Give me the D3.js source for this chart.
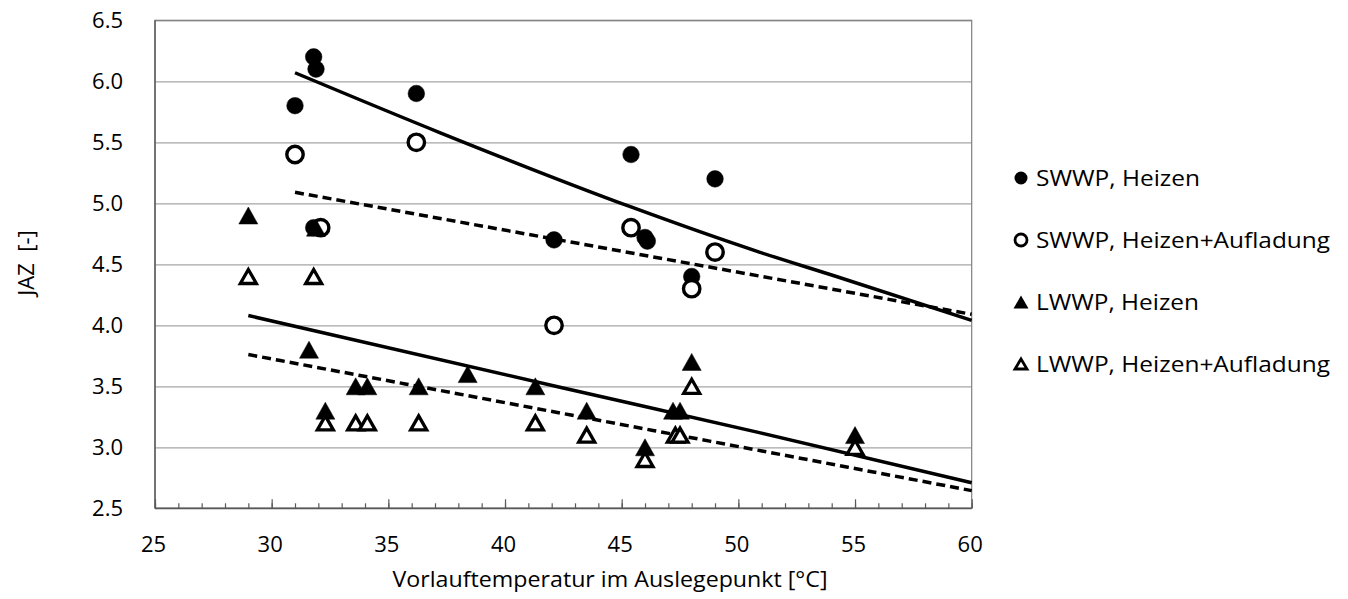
<html>
<head>
    <title>JAZ vs Vorlauftemperatur</title>
    <meta charset="UTF-8" />
    <script src="https://d3js.org/d3.v7.min.js"></script>

    <style>
        body { margin: 0; background: white; }
        text { font-family: "Open Sans", "Noto Sans", sans-serif; fill: #000; }
        .gridlines line { stroke: #a6a6a6; stroke-width: 1.2; }
        .gridlines .domain { stroke: none; }
        .ticklabels .domain { stroke: none; }
        .ticklabels text { font-size: 22px; }
        .minor line, .major line { stroke: #595959; stroke-width: 1.2; }
        .minor .domain, .major .domain { stroke: none; }
    </style>
</head>

<body>
    <svg height="599" width="1348" id="svg"></svg>

    <script>
        // data: [Vorlauftemperatur, JAZ]
        const swwpHeizen = [[31.8, 6.2], [31.9, 6.1], [31.0, 5.8], [36.2, 5.9], [45.4, 5.4], [49.0, 5.2],
                            [42.1, 4.7], [46.0, 4.72], [46.1, 4.69], [48.0, 4.4], [31.8, 4.8]];
        const swwpAufladung = [[31.0, 5.4], [36.2, 5.5], [45.4, 4.8], [49.0, 4.6], [48.0, 4.3],
                               [42.1, 4.0], [32.1, 4.8]];
        const lwwpHeizen = [[29.0, 4.9], [31.9, 4.8], [31.6, 3.8], [32.3, 3.3], [33.6, 3.5], [34.1, 3.5],
                            [36.3, 3.5], [38.4, 3.6], [41.3, 3.5], [43.5, 3.3], [46.0, 3.0], [47.2, 3.3],
                            [47.5, 3.3], [48.0, 3.7], [55.0, 3.1]];
        const lwwpAufladung = [[29.0, 4.4], [31.8, 4.4], [32.3, 3.2], [33.6, 3.2], [34.1, 3.2], [36.3, 3.2],
                               [41.3, 3.2], [43.5, 3.1], [46.0, 2.9], [47.3, 3.1], [47.5, 3.1], [48.0, 3.5],
                               [55.0, 3.0]];

        // trend lines as seen in the picture
        const trendSwwpHeizen = [[31.0, 6.07], [37.2, 5.58], [45.4, 4.97], [50.9, 4.60], [54.2, 4.40], [60, 4.04]];
        const trendSwwpAufladung = [[31.0, 5.09], [60, 4.09]];
        const trendLwwpHeizen = [[29.0, 4.08], [42.4, 3.49], [50.9, 3.12], [60, 2.71]];
        const trendLwwpAufladung = [[29.0, 3.76], [42.4, 3.28], [60, 2.645]];

        const xTicks = [25, 30, 35, 40, 45, 50, 55, 60];
        const xMinorTicks = d3.range(25, 61, 1);
        const yTicks = [2.5, 3.0, 3.5, 4.0, 4.5, 5.0, 5.5, 6.0, 6.5];
        const legendLabels = ["SWWP, Heizen", "SWWP, Heizen+Aufladung", "LWWP, Heizen", "LWWP, Heizen+Aufladung"];

        // setting up svg
        const svg = d3.select('svg#svg');
        const margin = {top: 20.3, left: 155, right: 1348 - 971.7, bottom: 599 - 508.3};
        const chartWidth = 1348 - margin.left - margin.right;
        const chartHeight = 599 - margin.top - margin.bottom;

        const xScale = d3.scaleLinear().domain([25, 60]).range([0, chartWidth]);
        const yScale = d3.scaleLinear().domain([2.5, 6.5]).range([chartHeight, 0]);

        const chart = svg.append("g")
            .attr("transform", "translate(" + margin.left + "," + margin.top + ")");

        // gridlines
        chart.append("g")
            .attr("class", "gridlines")
            .call(d3.axisLeft(yScale).tickValues(yTicks).tickSize(-chartWidth).tickFormat(""));

        // frame
        chart.append("rect")
            .attr("width", chartWidth).attr("height", chartHeight)
            .attr("fill", "none").attr("stroke", "#7f7f7f").attr("stroke-width", 1.2);
        chart.append("line").attr("x1", 0).attr("x2", 0).attr("y1", 0).attr("y2", chartHeight)
            .attr("stroke", "#595959").attr("stroke-width", 1.4);
        chart.append("line").attr("x1", 0).attr("x2", chartWidth).attr("y1", chartHeight).attr("y2", chartHeight)
            .attr("stroke", "#595959").attr("stroke-width", 1.4);

        // tick marks on the x axis point into the plot
        chart.append("g").attr("class", "minor")
            .attr("transform", "translate(0," + chartHeight + ")")
            .call(d3.axisBottom(xScale).tickValues(xMinorTicks).tickSize(-5).tickFormat(""));
        chart.append("g").attr("class", "major")
            .attr("transform", "translate(0," + chartHeight + ")")
            .call(d3.axisBottom(xScale).tickValues(xTicks).tickSize(-9).tickFormat(""));

        // tick labels
        chart.append("g").attr("class", "ticklabels")
            .attr("transform", "translate(-2," + chartHeight + ")")
            .call(d3.axisBottom(xScale).tickValues(xTicks).tickSize(0).tickPadding(28).tickFormat(d3.format("d")));
        chart.append("g").attr("class", "ticklabels")
            .call(d3.axisLeft(yScale).tickValues(yTicks).tickSize(0).tickPadding(32).tickFormat(d3.format(".1f")));
        chart.selectAll(".ticklabels .tick line").remove();

        // trend lines
        const line = d3.line().x(d => xScale(d[0])).y(d => yScale(d[1])).curve(d3.curveMonotoneX);
        const trends = [
            {data: trendSwwpHeizen, dash: null},
            {data: trendSwwpAufladung, dash: "9,5"},
            {data: trendLwwpHeizen, dash: null},
            {data: trendLwwpAufladung, dash: "9,5"}
        ];
        chart.selectAll("path.trend").data(trends)
            .join("path")
            .attr("class", "trend")
            .attr("d", d => line(d.data))
            .attr("fill", "none")
            .attr("stroke", "#000")
            .attr("stroke-width", 3.5)
            .attr("stroke-dasharray", d => d.dash);

        // marker shapes (triangles centred on their bounding box)
        const triangle = (w, h) => "M0," + (-h / 2) + "L" + (w / 2) + "," + (h / 2) + "L" + (-w / 2) + "," + (h / 2) + "Z";

        const drawCircles = function(data, filled, r) {
            chart.append("g").selectAll("circle").data(data)
                .join("circle")
                .attr("cx", d => xScale(d[0]))
                .attr("cy", d => yScale(d[1]))
                .attr("r", r)
                .attr("fill", filled ? "#000" : "#fff")
                .attr("stroke", "#000")
                .attr("stroke-width", filled ? 0.5 : 3.4);
        };
        const drawTriangles = function(data, filled) {
            chart.append("g").selectAll("path").data(data)
                .join("path")
                .attr("d", filled ? triangle(19, 17) : triangle(16, 14))
                .attr("transform", d => "translate(" + xScale(d[0]) + "," + yScale(d[1]) + ")")
                .attr("fill", filled ? "#000" : "#fff")
                .attr("stroke", "#000")
                .attr("stroke-width", filled ? 0.5 : 3.3)
                .attr("stroke-linejoin", "miter");
        };

        drawCircles(swwpHeizen, true, 8.3);
        drawCircles(swwpAufladung, false, 8.2);
        drawTriangles(lwwpHeizen, true);
        drawTriangles(lwwpAufladung, false);

        // legend
        const legend = svg.append("g").attr("transform", "translate(1021,0)");
        const legendY = [178, 240, 302, 364];
        const legendWidths = [164, 294, 163, 294];
        legend.append("circle").attr("cx", 0).attr("cy", legendY[0]).attr("r", 6.5).attr("fill", "#000");
        legend.append("circle").attr("cx", 0).attr("cy", legendY[1]).attr("r", 6)
            .attr("fill", "#fff").attr("stroke", "#000").attr("stroke-width", 2.8);
        legend.append("path").attr("d", triangle(15, 13))
            .attr("transform", "translate(0," + legendY[2] + ")").attr("fill", "#000");
        legend.append("path").attr("d", triangle(12, 10))
            .attr("transform", "translate(0," + legendY[3] + ")")
            .attr("fill", "#fff").attr("stroke", "#000").attr("stroke-width", 2.8);

        legend.selectAll("text.legend").data(legendLabels)
            .join("text")
            .attr("class", "legend")
            .attr("x", 15)
            .attr("y", (d, i) => legendY[i])
            .attr("dy", "0.36em")
            .attr("textLength", (d, i) => legendWidths[i])
            .attr("lengthAdjust", "spacingAndGlyphs")
            .style("font-size", "22px")
            .text(d => d);

        // x axis label
        svg.append("text")
            .attr("text-anchor", "middle")
            .attr("x", 610)
            .attr("y", 587)
            .attr("textLength", 435)
            .attr("lengthAdjust", "spacingAndGlyphs")
            .style("font-size", "22px")
            .text("Vorlauftemperatur im Auslegepunkt [°C]");

        // y axis label
        svg.append("text")
            .attr("text-anchor", "middle")
            .attr("transform", "translate(34,263) rotate(-90)")
            .style("font-size", "22px")
            .style("white-space", "pre")
            .text("JAZ  [-]");
    </script>
</body>
</html>
